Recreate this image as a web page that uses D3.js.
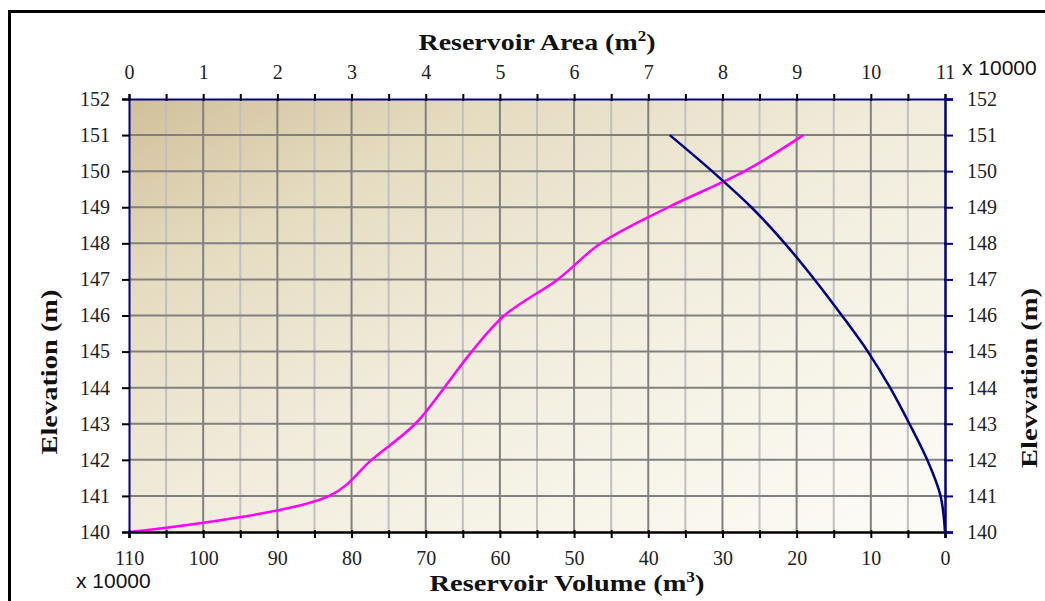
<!DOCTYPE html>
<html>
<head>
<meta charset="utf-8">
<script src="https://cdn.jsdelivr.net/npm/d3@7"></script>
<style>
  body { margin: 0; background: #fff; }
  svg { display: block; }
</style>
</head>
<body>
<script>
// elevation (m) and the two curves (x 10000)
const elevation = [140, 141, 142, 143, 144, 145, 146, 147, 148, 149, 150, 151];
const area   = [0, 2.7, 3.27, 3.86, 4.25, 4.62, 5.06, 5.78, 6.36, 7.27, 8.3, 9.09];
const volume = [0, 0.6, 2.4, 4.8, 7.4, 10.4, 13.9, 17.6, 21.6, 26.1, 31.4, 37.1];

const areaTicks = d3.range(0, 11.01, 0.5);
const volumeTicks = d3.range(0, 110.1, 5);
const elevTicks = d3.range(140, 152.1, 1);

const width = 1045, height = 601;
const pLeft = 129, pRight = 945, pTop = 99, pBottom = 532;

const svg = d3.select("body").append("svg")
    .attr("width", width)
    .attr("height", height);

// outer frame (runs off the picture on the right and bottom)
svg.append("rect")
    .attr("x", 9.5).attr("y", 11.5)
    .attr("width", 1100).attr("height", 700)
    .attr("fill", "none")
    .attr("stroke", "#000")
    .attr("stroke-width", 3);

const xArea = d3.scaleLinear().domain([0, 11]).range([pLeft, pRight]);
const xVol = d3.scaleLinear().domain([110, 0]).range([pLeft, pRight]);
const y = d3.scaleLinear().domain([140, 152]).range([pBottom, pTop]);

// plot background
const grad = svg.append("defs").append("linearGradient")
    .attr("id", "bg")
    .attr("x1", 0).attr("y1", 0).attr("x2", 1).attr("y2", 1);
grad.append("stop").attr("offset", 0).attr("stop-color", "#d1c09a");
grad.append("stop").attr("offset", 0.22).attr("stop-color", "#e5dbc0");
grad.append("stop").attr("offset", 0.5).attr("stop-color", "#f1ecdc");
grad.append("stop").attr("offset", 1).attr("stop-color", "#fdfcf7");

svg.append("rect")
    .attr("x", pLeft).attr("y", pTop)
    .attr("width", pRight - pLeft).attr("height", pBottom - pTop)
    .attr("fill", "url(#bg)");

// grid
const grid = svg.append("g");
grid.selectAll("line.v")
    .data(areaTicks.filter(d => d > 0 && d < 11))
  .enter().append("line")
    .attr("x1", d => xArea(d)).attr("x2", d => xArea(d))
    .attr("y1", pTop).attr("y2", pBottom)
    .attr("stroke", d => Number.isInteger(d) ? "#808080" : "#c0c0c0")
    .attr("stroke-width", 2);
grid.selectAll("line.h")
    .data(elevTicks.filter(d => d > 140 && d < 152))
  .enter().append("line")
    .attr("x1", pLeft).attr("x2", pRight)
    .attr("y1", d => y(d)).attr("y2", d => y(d))
    .attr("stroke", "#808080")
    .attr("stroke-width", 2);

// curves
const line = d3.line().curve(d3.curveCatmullRom);

svg.append("path")
    .attr("d", line(elevation.map((e, i) => [xArea(area[i]), y(e)])))
    .attr("fill", "none")
    .attr("stroke", "#ff00ff")
    .attr("stroke-width", 2.5);

svg.append("path")
    .attr("d", line(elevation.map((e, i) => [xVol(volume[i]), y(e)])))
    .attr("fill", "none")
    .attr("stroke", "#000080")
    .attr("stroke-width", 2.5);

// axes
const tickFont = "'Liberation Serif', 'Times New Roman', serif";

function styleAxis(g, color, w) {
  g.select(".domain").attr("stroke", color).attr("stroke-width", w);
  g.selectAll(".tick line").attr("stroke", color).attr("stroke-width", 2);
  g.selectAll(".tick text")
      .attr("fill", "#222")
      .style("font-family", tickFont)
      .style("font-size", "20px");
}

const topAxis = svg.append("g")
    .attr("transform", `translate(0,${pTop})`)
    .call(d3.axisTop(xArea).tickValues(areaTicks).tickSizeOuter(0)
      .tickSize(5).tickPadding(15)
      .tickFormat(d => Number.isInteger(d) ? d : ""));
styleAxis(topAxis, "#000080", 2);
topAxis.selectAll(".tick line").attr("stroke", "#000").attr("y1", 2).attr("y2", -5);

const bottomAxis = svg.append("g")
    .attr("transform", `translate(0,${pBottom})`)
    .call(d3.axisBottom(xVol).tickValues(volumeTicks).tickSizeOuter(0)
      .tickSize(6).tickPadding(13)
      .tickFormat(d => d % 10 === 0 ? d : ""));
styleAxis(bottomAxis, "#000", 2.5);
bottomAxis.selectAll(".tick line").attr("y1", -2);

const leftAxis = svg.append("g")
    .attr("transform", `translate(${pLeft},0)`)
    .call(d3.axisLeft(y).tickValues(elevTicks).tickSizeOuter(0)
      .tickSize(7).tickPadding(12).tickFormat(d3.format("d")));
styleAxis(leftAxis, "#000080", 2);
leftAxis.selectAll(".tick line").attr("stroke", "#000").attr("x2", -7).attr("x1", 1);

const rightAxis = svg.append("g")
    .attr("transform", `translate(${pRight},0)`)
    .call(d3.axisRight(y).tickValues(elevTicks).tickSizeOuter(0)
      .tickSize(8).tickPadding(14).tickFormat(d3.format("d")));
styleAxis(rightAxis, "#000080", 2.5);
rightAxis.selectAll(".tick line").attr("x1", -1);

// multipliers
const sans = "'Liberation Sans', Arial, sans-serif";
svg.append("text")
    .attr("x", 962).attr("y", 75)
    .style("font-family", sans).style("font-size", "21px").attr("fill", "#111")
    .text("x 10000");
svg.append("text")
    .attr("x", 76).attr("y", 588)
    .style("font-family", sans).style("font-size", "21px").attr("fill", "#111")
    .text("x 10000");

// titles
const titleFont = "'Liberation Serif', 'Times New Roman', serif";

function title(x, yPos, label, sup, len, rotate) {
  const t = svg.append("text")
      .attr("text-anchor", "middle")
      .style("font-family", titleFont)
      .style("font-size", "23px")
      .style("font-weight", "bold")
      .attr("fill", "#111");
  if (rotate) {
    t.attr("transform", `translate(${x},${yPos}) rotate(-90)`);
  } else {
    t.attr("x", x).attr("y", yPos);
  }
  if (len) t.attr("textLength", len).attr("lengthAdjust", "spacingAndGlyphs");
  t.append("tspan").text(label);
  if (sup) {
    t.append("tspan").attr("dy", -9).style("font-size", "14px").text(sup);
    t.append("tspan").attr("dy", 9).text(")");
  }
  return t;
}

title(537, 50, "Reservoir Area (m", "2", 237);
title(567, 591, "Reservoir Volume (m", "3", 275);
title(57, 372, "Elevation (m)", null, 165, true);
title(1037, 378, "Elevvation (m)", null, 180, true);
</script>
</body>
</html>
